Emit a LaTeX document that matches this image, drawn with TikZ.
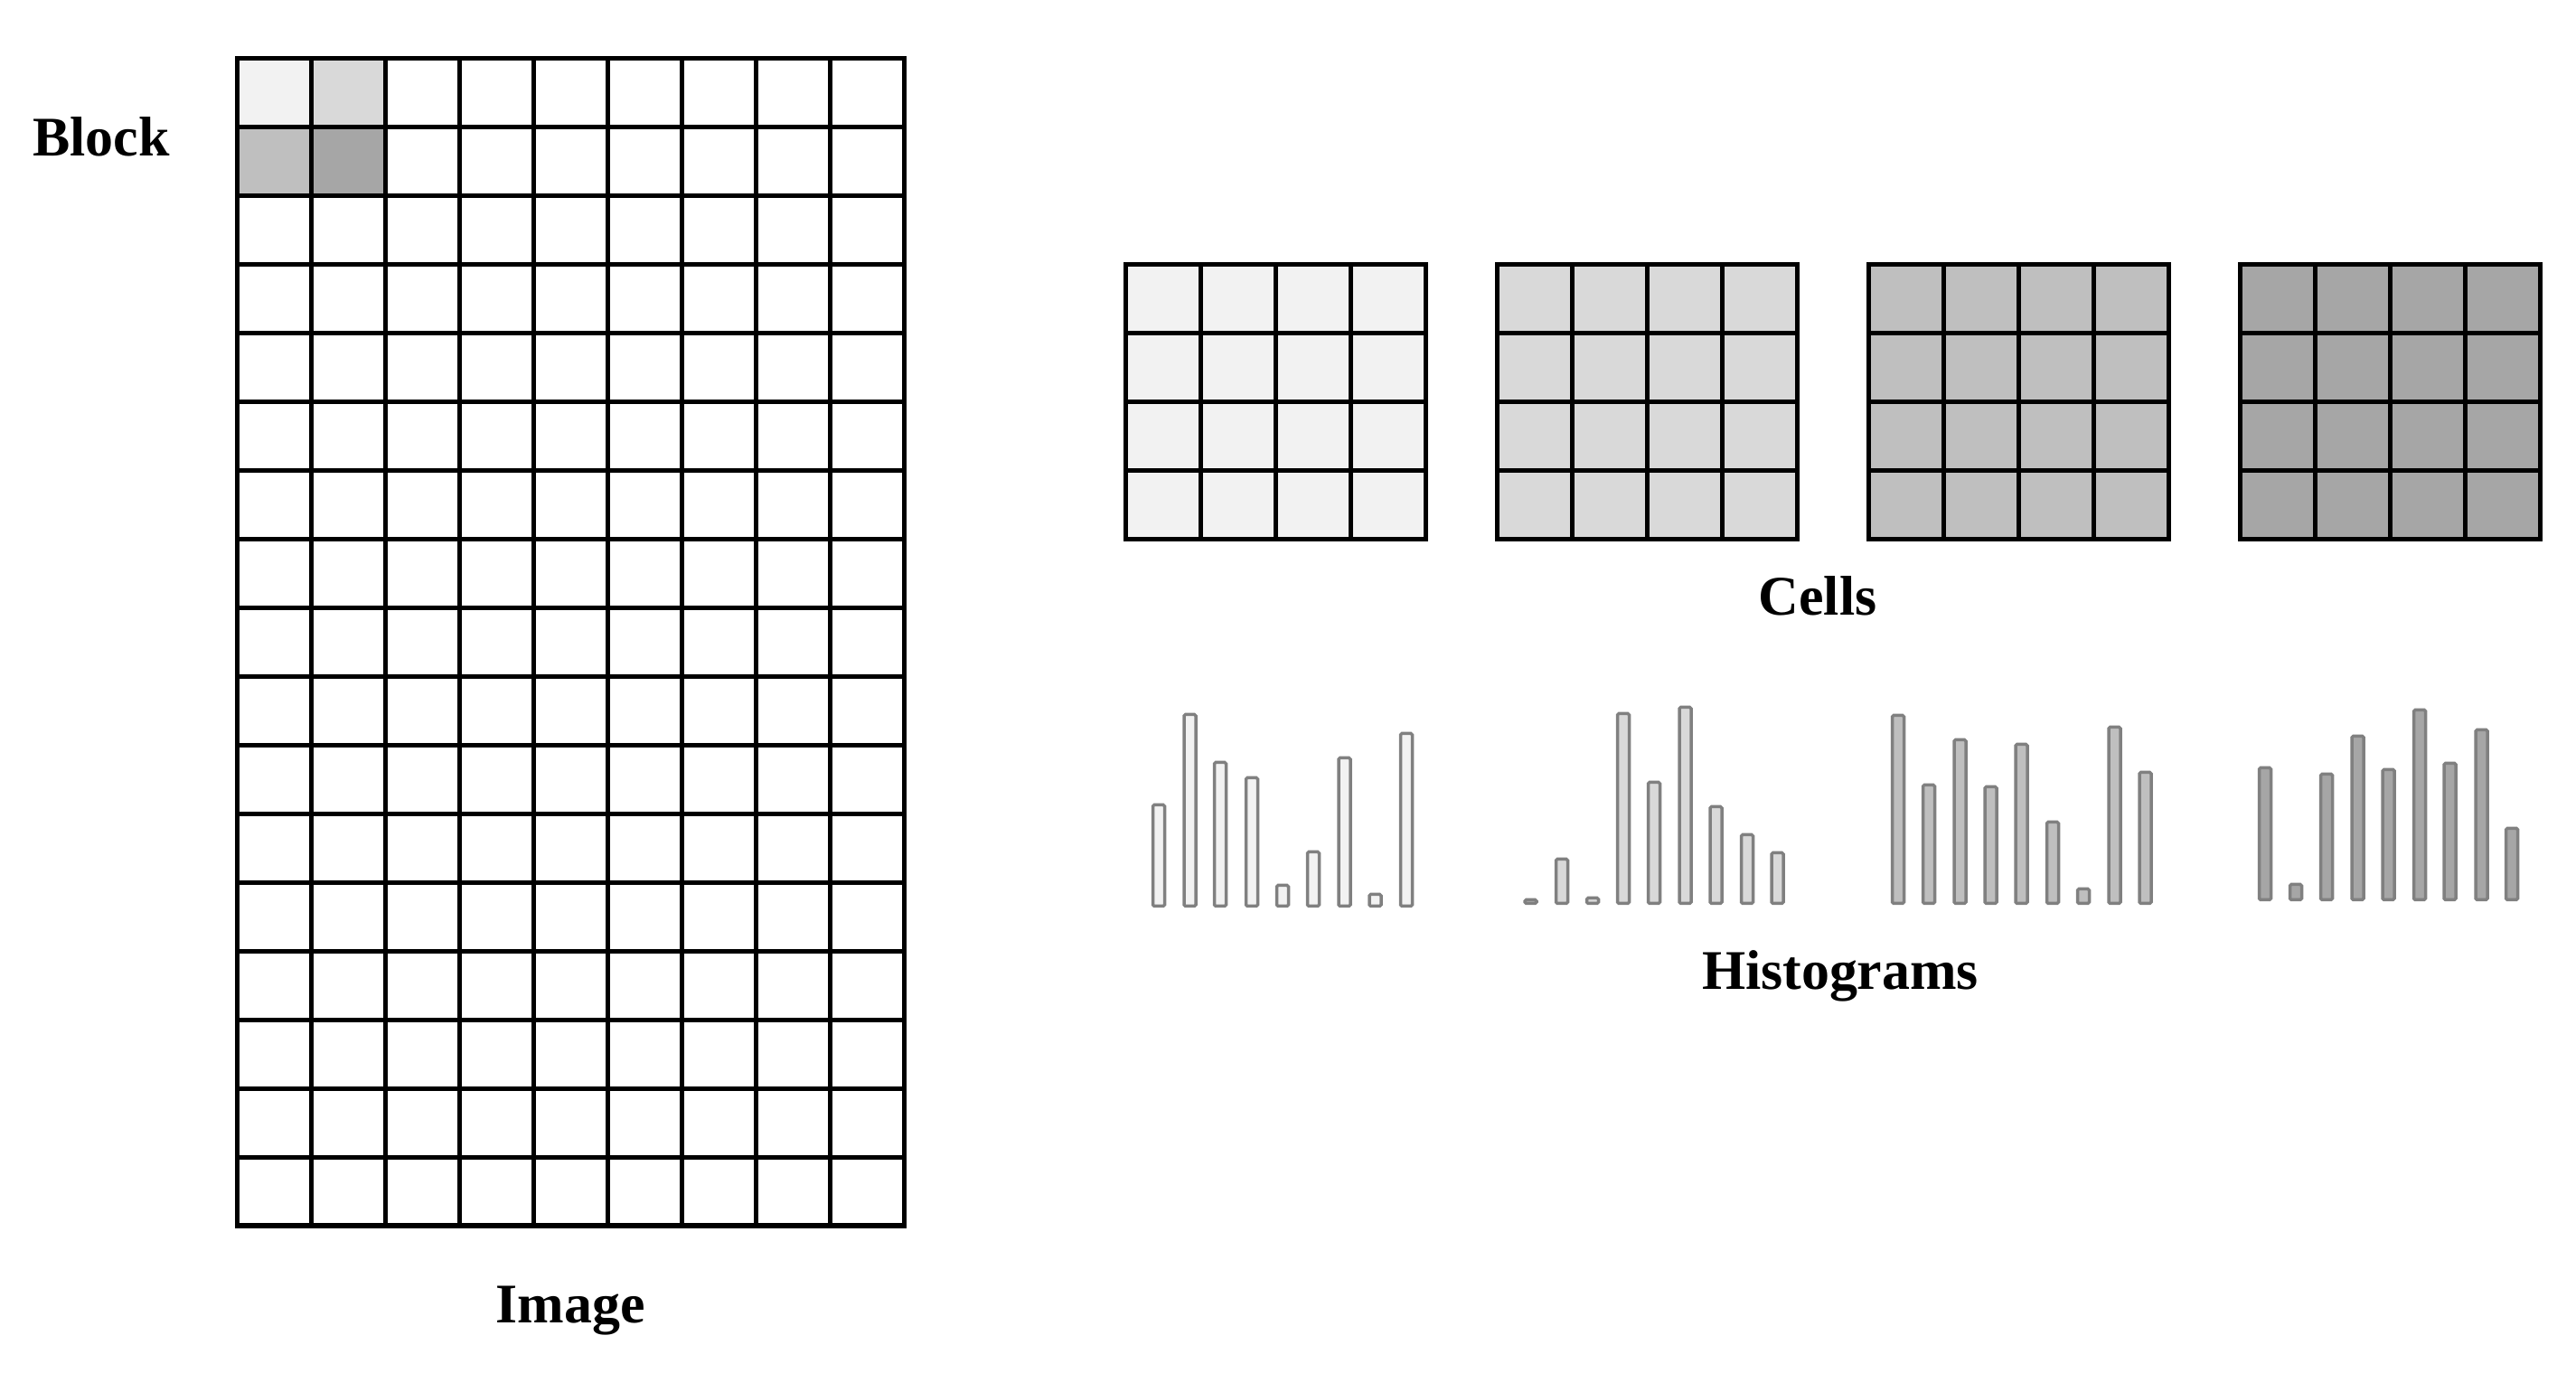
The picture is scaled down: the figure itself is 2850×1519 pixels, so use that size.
\documentclass[tikz,border=0pt]{standalone}
\usepackage{fontspec}
\setmainfont{Liberation Serif}
\definecolor{gA}{HTML}{F2F2F2}
\definecolor{gB}{HTML}{D9D9D9}
\definecolor{gC}{HTML}{BFBFBF}
\definecolor{gD}{HTML}{A6A6A6}
\definecolor{barline}{HTML}{808080}
\begin{document}
\begin{tikzpicture}[x=0.01cm,y=-0.01cm,
  gridline/.style={line width=0.05cm, black, line cap=rect},
  frameline/.style={line width=0.05cm, black, line join=miter},
  histbar/.style={line width=0.035cm, draw=barline, rounded corners=0.015cm},
  lbl/.style={inner sep=0pt, anchor=base, font=\fontsize{17.6pt}{20pt}\selectfont\bfseries}]
\useasboundingbox (0,0) rectangle (2850,1519);
% ---- Image grid: 9 x 17 cells
\fill[gA] (262,65) rectangle (344,141);
\fill[gB] (344,65) rectangle (426,141);
\fill[gC] (262,141) rectangle (344,217);
\fill[gD] (344,141) rectangle (426,217);
\foreach \i in {1,...,8} \draw[gridline] ({262+82*\i},65) -- ({262+82*\i},1356);
\foreach \j in {1,...,16} \draw[gridline] (262,{65+75.94*\j}) -- (1000,{65+75.94*\j});
\draw[frameline] (262,65) rectangle (1000,1356);
% ---- Cell grids: 4 x 4 each
\foreach \xo/\col in {1245/gA,1656/gB,2067/gC,2478/gD}{
  \fill[\col] (\xo,293) rectangle ({\xo+332},597);
  \foreach \i in {1,2,3} \draw[gridline] ({\xo+83*\i},293) -- ({\xo+83*\i},597);
  \foreach \j in {1,2,3} \draw[gridline] (\xo,{293+76*\j}) -- ({\xo+332},{293+76*\j});
  \draw[frameline] (\xo,293) rectangle ({\xo+332},597);
}
% ---- Histograms
\foreach \cx/\tp in {1282/889,1316.5/789,1350/842,1385/859,1419/978,1453/941,1487.5/837,1521.5/988,1556/810}
  \draw[histbar, fill=gA] ({\cx-6.5},{\tp+1.5}) rectangle ({\cx+6.5},1002.5);
\foreach \cx/\tp in {1693.5/994,1728/949,1762/992,1796/788,1830/864,1864.5/781,1898.5/891,1933/922,1966.5/942}
  \draw[histbar, fill=gB] ({\cx-6.5},{\tp+1.5}) rectangle ({\cx+6.5},999.5);
\foreach \cx/\tp in {2100/790,2134/867,2168.5/817,2202.5/869,2236.5/822,2271/908,2305/982,2339.5/803,2373.5/853}
  \draw[histbar, fill=gC] ({\cx-6.5},{\tp+1.5}) rectangle ({\cx+6.5},999.5);
\foreach \cx/\tp in {2506/848,2540/977,2574/855,2608.5/813,2642.5/850,2677/784,2710.5/843,2745.5/806,2779/915}
  \draw[histbar, fill=gD] ({\cx-6.5},{\tp+1.5}) rectangle ({\cx+6.5},995.5);
% ---- Labels
\node[lbl] (block) at (112,173) {Block};
\node[lbl] (image) at (631,1463) {Image};
\node[lbl] (cells) at (2011,681) {Cells};
\node[lbl] (hist) at (2036,1095) {Histograms};
\end{tikzpicture}
\end{document}
